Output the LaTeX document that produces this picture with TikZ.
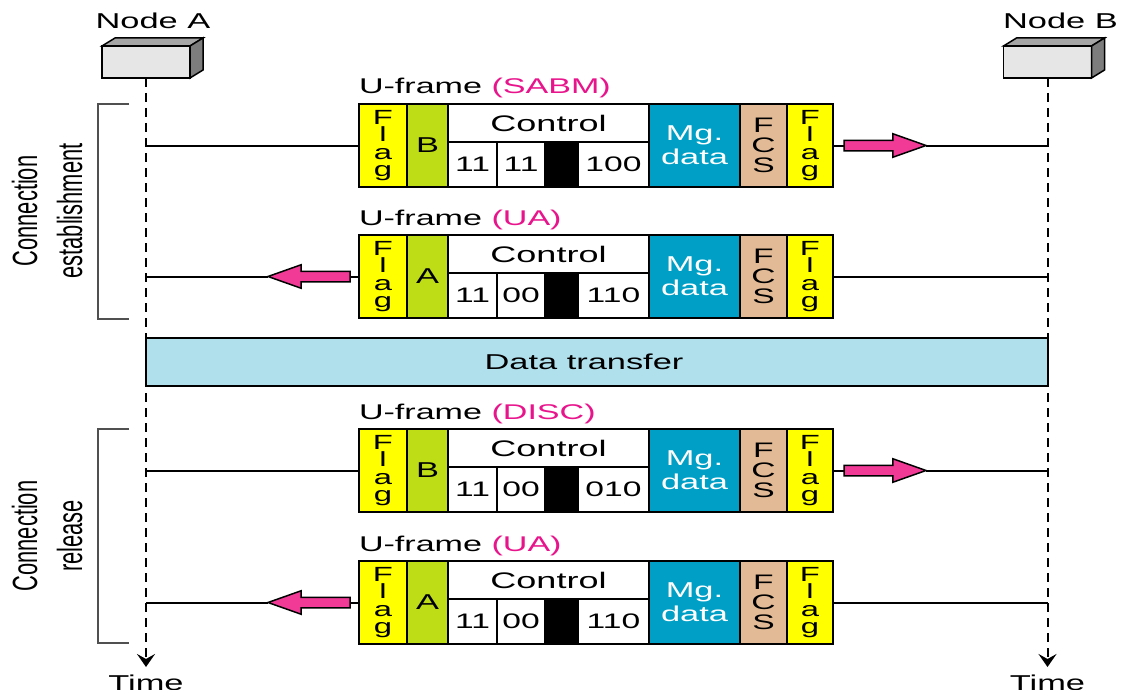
\documentclass[tikz,border=0pt]{standalone}
\usepackage{fontspec}
\setmainfont[FakeStretch=1.6]{Liberation Sans}
\newfontfamily\sidefont[FakeStretch=0.625]{Liberation Sans}
\usetikzlibrary{positioning,shapes.arrows,arrows.meta}

\definecolor{flagyellow}{RGB}{255,255,0}
\definecolor{addrgreen}{RGB}{191,221,22}
\definecolor{mgblue}{RGB}{0,160,198}
\definecolor{fcstan}{RGB}{226,186,150}
\definecolor{xferblue}{RGB}{176,224,236}
\definecolor{arrowpink}{RGB}{240,58,150}
\definecolor{labelpink}{RGB}{232,20,140}
\definecolor{boxface}{RGB}{230,230,230}
\definecolor{boxtop}{RGB}{166,166,166}
\definecolor{boxside}{RGB}{125,125,125}
\definecolor{bracketgray}{RGB}{80,80,80}

\begin{document}
\begin{tikzpicture}
    [
    x = 1pt, y = -1pt,
    every node/.style = {font=\fontsize{21.5}{24}\selectfont, inner sep=0pt, outer sep=0pt},
    field/.style = {draw, line width=1.5pt, minimum height=83pt, align=center},
    flag/.style = {field, fill=flagyellow, minimum width=48pt, font=\fontsize{20.5}{17.2}\selectfont},
    addr/.style = {field, fill=addrgreen, minimum width=41pt},
    ctl/.style = {draw, line width=1.5pt, fill=white, minimum width=201pt, minimum height=38pt, font=\fontsize{22.5}{24}\selectfont},
    bits/.style = {draw, line width=1.5pt, fill=white, minimum height=45pt, font=\fontsize{21}{24}\selectfont},
    mgdata/.style = {field, fill=mgblue, text=white, minimum width=91pt},
    fcs/.style = {field, fill=fcstan, minimum width=47pt, font=\fontsize{21}{20}\selectfont},
    ]
    \tikzstyle{station}=[draw,line width=1.5pt,fill=boxface,minimum width=88pt,minimum height=32pt]
    \tikzstyle{lifeline}=[line width=2pt,dash pattern=on 9pt off 6pt,-{Stealth[length=13pt,width=18pt,inset=5pt]}]
    \tikzstyle{msg}=[line width=2pt]
    \tikzstyle{parrow}=[single arrow,draw,line width=1.5pt,fill=arrowpink,minimum height=82pt,
        text height=4.5pt,text depth=4.5pt,text width=0pt,single arrow head extend=6.5pt,single arrow tip angle=39]
    \tikzstyle{flabel}=[font=\fontsize{21.3}{24}\selectfont]
    \tikzstyle{bracket}=[draw=bracketgray,line width=1.3pt]
    \tikzstyle{side}=[rotate=90,align=center,font=\sidefont\fontsize{35}{45}\selectfont]
    \tikzstyle{xfer}=[draw,line width=1.5pt,fill=xferblue,minimum width=902pt,minimum height=48pt]

    \useasboundingbox (0,0) rectangle (1121,690);

    % the two stations
    \node[station] (boxA) at (146,62) {};
    \draw[line width=1.5pt,fill=boxtop] (boxA.north west) -- ++(13,-8) -- ++(88,0) -- (boxA.north east) -- cycle;
    \draw[line width=1.5pt,fill=boxside] (boxA.north east) -- ++(13,-8) -- ++(0,32) -- (boxA.south east) -- cycle;
    \node[above=17.5pt of boxA, xshift=7pt] (nameA) {Node A};
    \node[station] (boxB) at (1047.5,62) {};
    \draw[line width=1.5pt,fill=boxtop] (boxB.north west) -- ++(13,-8) -- ++(88,0) -- (boxB.north east) -- cycle;
    \draw[line width=1.5pt,fill=boxside] (boxB.north east) -- ++(13,-8) -- ++(0,32) -- (boxB.south east) -- cycle;
    \node[above=17.5pt of boxB, xshift=13pt] (nameB) {Node B};

    % time lines
    \coordinate (endA) at (146,667);
    \coordinate (endB) at (1047.5,667);
    \draw[lifeline] (boxA.south) -- (endA);
    \draw[lifeline] (boxB.south) -- (endB);
    \node[below=8pt of endA] (timeA) {Time};
    \node[below=8pt of endB] (timeB) {Time};

    % phases
    \draw[bracket] (129,104) -- (98,104) -- (98,319) -- (129,319);
    \node[side] (est) at (47,211) {Connection\\establishment};
    \draw[bracket] (129,429) -- (98,429) -- (98,643) -- (129,643);
    \node[side] (rel) at (47,536) {Connection\\release};

    \node[xfer] (xfer) at (597,362) {Data transfer\hspace*{26pt}};

    % U-frame (SABM)
    \node[flag, anchor=north west] (f1flag) at (359,104) {F\\l\\a\\g};
    \node[addr, right=0pt of f1flag] (f1addr) {B};
    \node[ctl, anchor=north west] (f1ctl) at (f1addr.north east) {Control};
    \node[bits, anchor=north west, minimum width=49pt] (f1c1) at (f1ctl.south west) {11};
    \node[bits, right=0pt of f1c1, minimum width=48pt] (f1c2) {11};
    \node[bits, right=0pt of f1c2, minimum width=33pt, fill=black] (f1c3) {};
    \node[bits, right=0pt of f1c3, minimum width=71pt] (f1c4) {100};
    \node[mgdata, anchor=north west] (f1data) at (f1ctl.north east) {Mg.\\data};
    \node[fcs, right=0pt of f1data] (f1fcs) {F\\C\\S};
    \node[flag, right=0pt of f1fcs, minimum width=46pt] (f1flagb) {F\\l\\a\\g};
    \node[flabel, anchor=base west] (f1name) at ([yshift=10pt]f1flag.north west) {U-frame \textcolor{labelpink}{(SABM)}};
    \node[parrow, anchor=tail] (ar1) at ([xshift=11pt]f1flagb.east) {};
    \draw[msg] (boxA |- f1flag) -- (f1flag.west);
    \draw[msg] (f1flagb.east) -- (ar1.tail);
    \draw[msg] (ar1.tip) -- (boxB |- ar1);

    % U-frame (UA)
    \node[flag, anchor=north west] (f2flag) at (359,235) {F\\l\\a\\g};
    \node[addr, right=0pt of f2flag] (f2addr) {A};
    \node[ctl, anchor=north west] (f2ctl) at (f2addr.north east) {Control};
    \node[bits, anchor=north west, minimum width=49pt] (f2c1) at (f2ctl.south west) {11};
    \node[bits, right=0pt of f2c1, minimum width=48pt] (f2c2) {00};
    \node[bits, right=0pt of f2c2, minimum width=33pt, fill=black] (f2c3) {};
    \node[bits, right=0pt of f2c3, minimum width=71pt] (f2c4) {110};
    \node[mgdata, anchor=north west] (f2data) at (f2ctl.north east) {Mg.\\data};
    \node[fcs, right=0pt of f2data] (f2fcs) {F\\C\\S};
    \node[flag, right=0pt of f2fcs, minimum width=46pt] (f2flagb) {F\\l\\a\\g};
    \node[flabel, anchor=base west] (f2name) at ([yshift=10pt]f2flag.north west) {U-frame \textcolor{labelpink}{(UA)}};
    \node[parrow, shape border rotate=180, anchor=tail] (ar2) at ([xshift=-9pt]f2flag.west) {};
    \draw[msg] (boxA |- ar2) -- (ar2.tip);
    \draw[msg] (ar2.tail) -- (f2flag.west);
    \draw[msg] (f2flagb.east) -- (boxB |- f2flagb);

    % U-frame (DISC)
    \node[flag, anchor=north west] (f3flag) at (359,429) {F\\l\\a\\g};
    \node[addr, right=0pt of f3flag] (f3addr) {B};
    \node[ctl, anchor=north west] (f3ctl) at (f3addr.north east) {Control};
    \node[bits, anchor=north west, minimum width=49pt] (f3c1) at (f3ctl.south west) {11};
    \node[bits, right=0pt of f3c1, minimum width=48pt] (f3c2) {00};
    \node[bits, right=0pt of f3c2, minimum width=33pt, fill=black] (f3c3) {};
    \node[bits, right=0pt of f3c3, minimum width=71pt] (f3c4) {010};
    \node[mgdata, anchor=north west] (f3data) at (f3ctl.north east) {Mg.\\data};
    \node[fcs, right=0pt of f3data] (f3fcs) {F\\C\\S};
    \node[flag, right=0pt of f3fcs, minimum width=46pt] (f3flagb) {F\\l\\a\\g};
    \node[flabel, anchor=base west] (f3name) at ([yshift=10pt]f3flag.north west) {U-frame \textcolor{labelpink}{(DISC)}};
    \node[parrow, anchor=tail] (ar3) at ([xshift=11pt]f3flagb.east) {};
    \draw[msg] (boxA |- f3flag) -- (f3flag.west);
    \draw[msg] (f3flagb.east) -- (ar3.tail);
    \draw[msg] (ar3.tip) -- (boxB |- ar3);

    % U-frame (UA)
    \node[flag, anchor=north west] (f4flag) at (359,561) {F\\l\\a\\g};
    \node[addr, right=0pt of f4flag] (f4addr) {A};
    \node[ctl, anchor=north west] (f4ctl) at (f4addr.north east) {Control};
    \node[bits, anchor=north west, minimum width=49pt] (f4c1) at (f4ctl.south west) {11};
    \node[bits, right=0pt of f4c1, minimum width=48pt] (f4c2) {00};
    \node[bits, right=0pt of f4c2, minimum width=33pt, fill=black] (f4c3) {};
    \node[bits, right=0pt of f4c3, minimum width=71pt] (f4c4) {110};
    \node[mgdata, anchor=north west] (f4data) at (f4ctl.north east) {Mg.\\data};
    \node[fcs, right=0pt of f4data] (f4fcs) {F\\C\\S};
    \node[flag, right=0pt of f4fcs, minimum width=46pt] (f4flagb) {F\\l\\a\\g};
    \node[flabel, anchor=base west] (f4name) at ([yshift=10pt]f4flag.north west) {U-frame \textcolor{labelpink}{(UA)}};
    \node[parrow, shape border rotate=180, anchor=tail] (ar4) at ([xshift=-9pt]f4flag.west) {};
    \draw[msg] (boxA |- ar4) -- (ar4.tip);
    \draw[msg] (ar4.tail) -- (f4flag.west);
    \draw[msg] (f4flagb.east) -- (boxB |- f4flagb);
\end{tikzpicture}
\end{document}
